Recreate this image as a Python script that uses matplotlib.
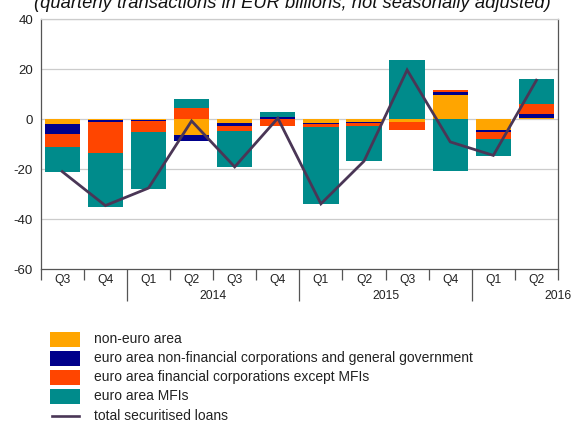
import matplotlib
matplotlib.use("Agg")
import matplotlib.pyplot as plt
import numpy as np
from matplotlib.patches import Rectangle
from matplotlib.lines import Line2D
import matplotlib.transforms as mtransforms

plt.rcParams['font.family'] = ['Liberation Sans', 'DejaVu Sans']

quarters = ["Q3", "Q4", "Q1", "Q2", "Q3", "Q4", "Q1", "Q2", "Q3", "Q4", "Q1", "Q2"]
years = ["2014", "2015", "2016"]

non_euro = [-2.0, -0.2, -0.3, -6.4, -1.7, 0.0, -1.5, -1.0, -1.0, 9.5, -4.5, 0.3]
nfc_gov = [-4.0, -1.1, -0.3, -2.5, -0.9, 0.9, -0.6, -0.4, -0.3, 1.3, -0.5, 1.8]
fin_corp = [-5.3, -12.4, -4.7, 4.6, -2.0, -2.7, -1.0, -1.4, -3.1, 0.7, -2.8, 3.9]
mfis = [-10.0, -21.3, -22.7, 3.6, -14.4, 2.1, -30.8, -14.0, 23.7, -20.8, -6.9, 9.9]
total = [-21.0, -34.6, -27.6, -0.7, -19.1, 0.4, -33.9, -16.8, 19.7, -9.1, -14.5, 15.6]

series = [
    ("non-euro area", non_euro, "#FFA500"),
    ("euro area non-financial corporations and general government", nfc_gov, "#00008B"),
    ("euro area financial corporations except MFIs", fin_corp, "#FF4500"),
    ("euro area MFIs", mfis, "#008B8B"),
]
line_label = "total securitised loans"
line_color = "#4a3656"

W, H = 578, 423
fig = plt.figure(figsize=(W / 100, H / 100), dpi=100)
left, right, top, bottom = 40.7, 558.0, 19.3, 269.0
ax = fig.add_axes([left / W, 1 - bottom / H, (right - left) / W, (bottom - top) / H])

x = np.arange(len(quarters))
pos_base = np.zeros(len(x))
neg_base = np.zeros(len(x))
for name, vals, col in series:
    v = np.array(vals, dtype=float)
    b = np.where(v >= 0, pos_base, neg_base)
    ax.bar(x, v, bottom=b, width=0.82, color=col, linewidth=0, zorder=3)
    pos_base = pos_base + np.where(v >= 0, v, 0)
    neg_base = neg_base + np.where(v < 0, v, 0)

ax.plot(x, total, color=line_color, lw=2.0, zorder=4, solid_joinstyle='miter')

ax.set_xlim(-0.5, len(x) - 0.5)
ax.set_ylim(-60, 40)
ax.set_yticks([-60, -40, -20, 0, 20, 40])
ax.set_yticklabels(["-60", "-40", "-20", "0", "20", "40"])
ax.tick_params(axis='y', length=0, pad=5.5, labelsize=9.5, labelcolor='#222222')
for yv in [-40, -20, 0, 20, 40]:
    ax.axhline(yv, color='#cccccc', lw=0.9, zorder=1)

for s in ['left', 'right', 'bottom']:
    ax.spines[s].set_color('#555555')
    ax.spines[s].set_linewidth(0.9)
ax.spines['top'].set_color('#cccccc')
ax.spines['top'].set_linewidth(0.9)

# x ticks: quarter boundaries short, year boundaries long
bounds = np.arange(-0.5, len(x) + 0.5, 1.0)
year_bounds = [1.5, 5.5, 9.5]
minor = [b for b in bounds if b not in year_bounds]
ax.set_xticks(year_bounds)
ax.set_xticks(minor, minor=True)
ax.set_xticklabels([])
ax.tick_params(axis='x', which='major', length=23, width=0.9, color='#555555', direction='out')
ax.tick_params(axis='x', which='minor', length=8, width=0.9, color='#555555', direction='out')

trans = mtransforms.blended_transform_factory(ax.transData, fig.transFigure)
for i, q in enumerate(quarters):
    ax.text(i, 1 - 280 / H, q, transform=trans, ha='center', va='center', fontsize=8.7, color='#222222')
year_centers = [3.5, 7.5, 11.5]
for yc, yl in zip(year_centers, years):
    ax.text(yc, 1 - 296 / H, yl, transform=trans, ha='center', va='center', fontsize=8.7, color='#222222')

fig.text(292 / W, 1 - 7.5 / H, "(quarterly transactions in EUR billions; not seasonally adjusted)",
         ha='center', va='baseline', fontsize=13.2, style='italic', color='#111111')

# legend
row_y = [339.2, 358.2, 377.2, 396.2, 415.5]
for (name, vals, col), ry in zip(series, row_y):
    fig.add_artist(Rectangle((50 / W, 1 - (ry + 7.5) / H), 30 / W, 15 / H,
                             transform=fig.transFigure, facecolor=col, edgecolor='none'))
    fig.text(94 / W, 1 - ry / H, name, ha='left', va='center', fontsize=10, color='#222222')
ry = row_y[-1]
fig.add_artist(Line2D([52 / W, 79 / W], [1 - ry / H, 1 - ry / H], transform=fig.transFigure,
                      color=line_color, lw=1.9))
fig.text(94 / W, 1 - ry / H, line_label, ha='left', va='center', fontsize=10, color='#222222')

fig.savefig("out.png", dpi=100)
